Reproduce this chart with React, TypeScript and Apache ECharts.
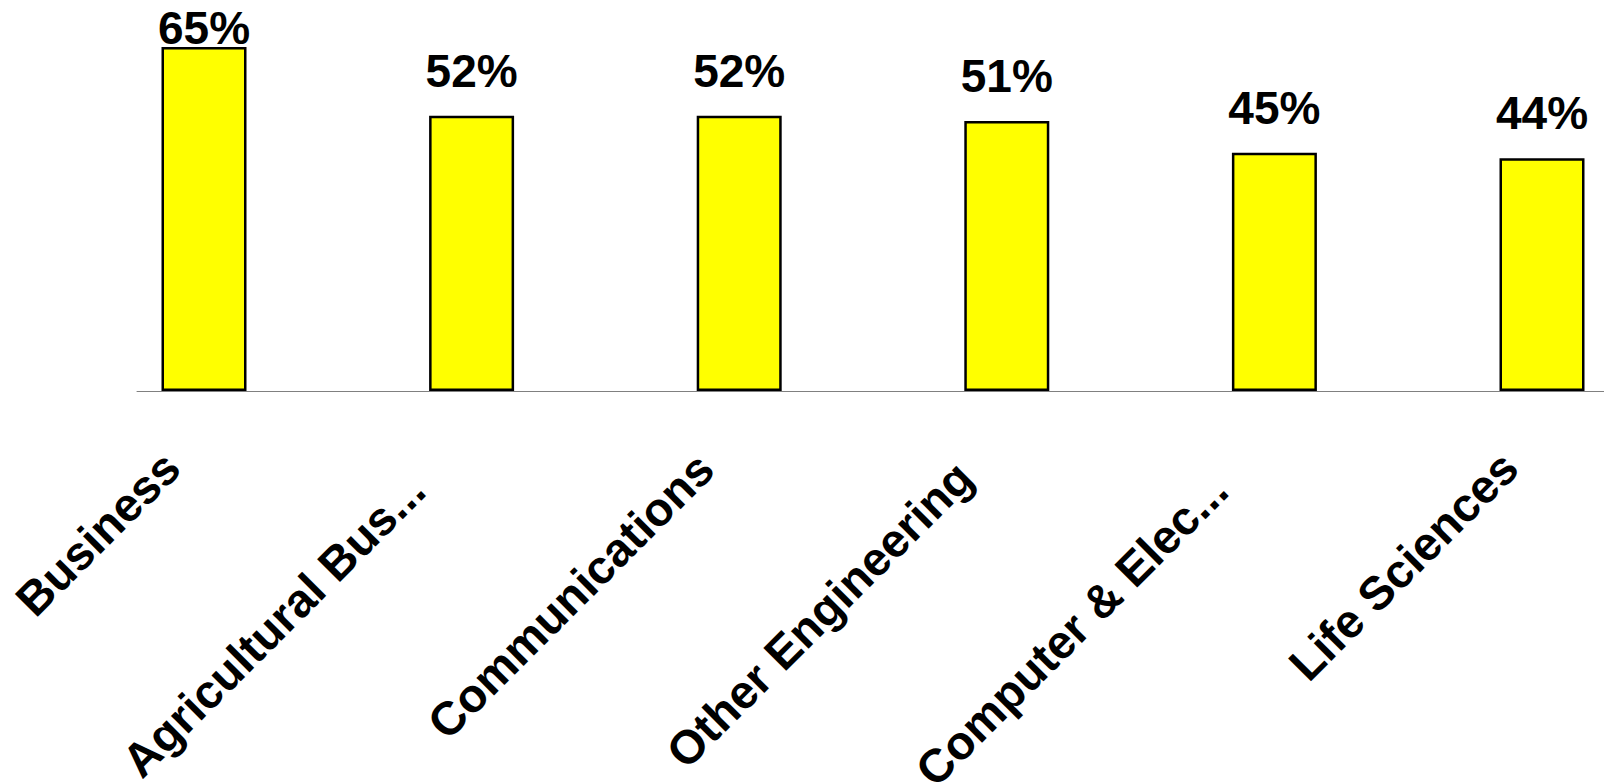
import React, { useEffect, useRef } from "react";
import * as echarts from "echarts";

const categories = [
  "Business",
  "Agricultural Bus...",
  "Communications",
  "Other Engineering",
  "Computer & Elec...",
  "Life Sciences",
];
const percentValues = [65, 52, 52, 51, 45, 44];
const valueLabels = ["65%", "52%", "52%", "51%", "45%", "44%"];
const labelShift = [46, 78, 48, 60, 78, 46];

const FONT = "Arial, 'Liberation Sans', Helvetica, sans-serif";

export default function App() {
  const ref = useRef<HTMLDivElement>(null);
  useEffect(() => {
    if (!ref.current) return;
    const chart = echarts.init(ref.current, undefined, { renderer: "svg" });
    const option = {
      animation: false,
      backgroundColor: "#ffffff",
      grid: [
        {
          left: 204,
          right: 62,
          top: 47,
          bottom: 391,
          containLabel: false,
          outerBoundsMode: "none",
        },
        {
          left: 137,
          right: 0,
          top: 47,
          bottom: 391,
          containLabel: false,
          outerBoundsMode: "none",
        },
      ],
      xAxis: [
        {
          type: "category",
          gridIndex: 0,
          data: categories.map((c, i) => ({
            value: c,
            textStyle: { padding: [0, labelShift[i], 0, 0] },
          })),
          boundaryGap: false,
          axisLine: { show: false },
          axisTick: { show: false },
          axisLabel: {
            interval: 0,
            rotate: 45,
            margin: 36,
            color: "#000000",
            fontFamily: FONT,
            fontWeight: "bold",
            fontSize: 47,
            lineHeight: 34,
            padding: [0, 46, 0, 0],
          },
        },
        {
          type: "value",
          gridIndex: 1,
          min: 0,
          max: 1,
          axisLine: { show: true, lineStyle: { color: "#808080", width: 1 } },
          axisTick: { show: false },
          axisLabel: { show: false },
          splitLine: { show: false },
        },
      ],
      yAxis: [
        {
          type: "value",
          gridIndex: 0,
          min: 0,
          max: 65,
          show: false,
          splitLine: { show: false },
        },
        {
          type: "value",
          gridIndex: 1,
          min: 0,
          max: 1,
          show: false,
          splitLine: { show: false },
        },
      ],
      series: [
        {
          type: "bar",
          xAxisIndex: 0,
          yAxisIndex: 0,
          barWidth: 85,
          data: percentValues.map((v, i) => ({
            value: v,
            label: i === 0 ? { distance: -4 } : undefined,
          })),
          itemStyle: {
            color: "#ffff00",
            borderColor: "#000000",
            borderWidth: 2.5,
          },
          label: {
            show: true,
            position: "top",
            distance: 22,
            color: "#000000",
            fontFamily: FONT,
            fontWeight: "bold",
            fontSize: 46,
            formatter: (p: any) => valueLabels[p.dataIndex],
          },
        },
      ],
    };
    chart.setOption(option as any);
    return () => chart.dispose();
  }, []);
  return (
    <div
      ref={ref}
      style={{ position: "absolute", left: 0, top: 0, width: 1604, height: 782 }}
    />
  );
}
